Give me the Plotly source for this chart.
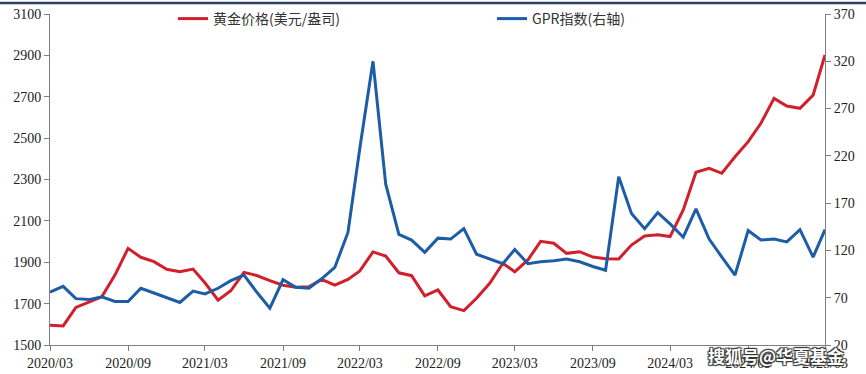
import plotly.graph_objects as go
import pandas as pd

months = pd.date_range("2020-03-01", "2025-03-01", freq="MS")

gold = [1595, 1592, 1682, 1709, 1733, 1838, 1967, 1924, 1903, 1866, 1854, 1867,
        1801, 1717, 1762, 1851, 1836, 1811, 1789, 1779, 1781, 1817, 1790, 1817,
        1858, 1950, 1930, 1849, 1835, 1738, 1766, 1685, 1666, 1726, 1798, 1895,
        1854, 1911, 2001, 1992, 1943, 1951, 1925, 1917, 1916, 1983, 2027, 2033,
        2024, 2153, 2335, 2354, 2330, 2410, 2483, 2572, 2692, 2655, 2644, 2708, 2902]

gpr = [76, 82, 69, 68, 71, 66, 66, 80, 75, 70, 65, 77,
       74, 80, 88, 94, 76, 59, 89, 81, 80, 90, 102, 139,
       228, 320, 190, 137, 131, 118, 133, 132, 143, 116, 111, 106,
       121, 106, 108, 109, 111, 108, 103, 99, 198, 159, 143, 160,
       148, 134, 164, 132, 113, 94, 141, 131, 132, 129, 142, 113, 142]

gold_name = "黄金价格(美元/盎司)"
gpr_name = "GPR指数(右轴)"
watermark = "搜狐号@华夏基金"

RED = "#D21F2C"
BLUE = "#1C5DA6"
AXIS = "#7F7F7F"
SERIF = "Liberation Serif"
TICKFONT = dict(family=SERIF, size=14, color="#222222")

fig = go.Figure()
fig.add_trace(go.Scatter(x=months, y=gold, name=gold_name, mode="lines",
                         line=dict(color=RED, width=3)))
fig.add_trace(go.Scatter(x=months, y=gpr, name=gpr_name, mode="lines",
                         line=dict(color=BLUE, width=3), yaxis="y2"))

L, R, T, B = 50, 41, 14, 29
W, H = 866, 374
pw, ph = W - L - R, H - T - B

fig.update_layout(
    width=W, height=H,
    margin=dict(l=L, r=R, t=T, b=B, pad=0, autoexpand=False),
    paper_bgcolor="white", plot_bgcolor="white",
    font=dict(family=SERIF, size=14, color="#222222"),
    showlegend=True,
    legend=dict(orientation="h", x=(173 - L) / pw, y=(H - B - 19) / ph,
                xanchor="left", yanchor="middle",
                entrywidth=274, entrywidthmode="pixels",
                bgcolor="rgba(0,0,0,0)",
                font=dict(family="Noto Sans CJK SC", size=14, color="#333333"),
                itemwidth=30),
    xaxis=dict(type="date", range=[months[0], months[-1]],
               tick0=months[0], dtick="M6", tickformat="%Y/%m",
               showgrid=False, zeroline=False, automargin=False,
               showline=True, linecolor=AXIS, linewidth=1,
               ticks="outside", ticklen=5, tickcolor=AXIS,
               tickfont=TICKFONT),
    yaxis=dict(range=[1500, 3100], dtick=200, tick0=1500,
               showgrid=False, zeroline=False, automargin=False,
               showline=True, linecolor=AXIS, linewidth=1,
               ticks="outside", ticklen=5, tickcolor=AXIS,
               tickfont=TICKFONT),
    yaxis2=dict(range=[20, 370], dtick=50, tick0=20, overlaying="y", side="right",
                showgrid=False, zeroline=False, automargin=False,
                showline=True, linecolor=AXIS, linewidth=1,
                ticks="outside", ticklen=5, tickcolor=AXIS,
                tickfont=TICKFONT),
)

# header rule across the top of the image
fig.add_shape(type="line", xref="paper", yref="paper",
              x0=-L / pw, x1=(W - L) / pw,
              y0=(H - B - 3) / ph, y1=(H - B - 3) / ph,
              line=dict(color="#2C4160", width=2.5))

fig.add_annotation(text=watermark, xref="paper", yref="paper",
                   x=(776 - L) / pw, y=(H - B - 355) / ph,
                   xanchor="center", yanchor="middle", showarrow=False,
                   font=dict(family="Noto Sans CJK SC", size=17, color="white",
                             weight="bold",
                             shadow="1px 1px 1px #333, -1px -1px 1px #333, 1px -1px 1px #333, -1px 1px 1px #333"))

fig.write_html("out.html", config={"displayModeBar": False},
               post_script="document.body.style.margin='0';document.body.style.overflow='hidden';")
